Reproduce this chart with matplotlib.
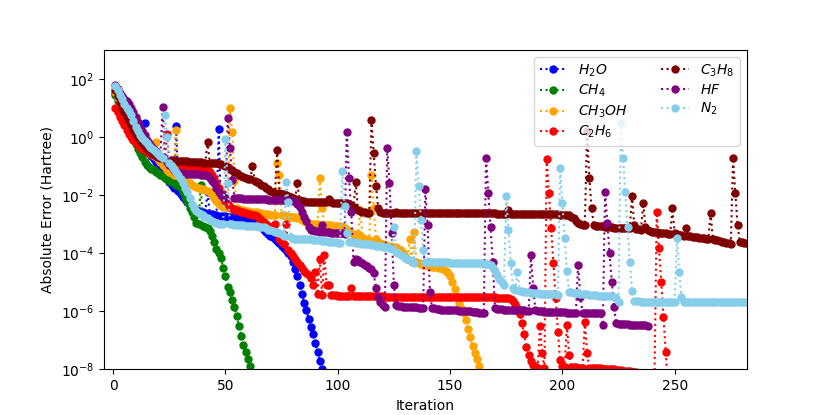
import numpy as np
import matplotlib
matplotlib.use('Agg')
import matplotlib.pyplot as plt
from matplotlib.ticker import NullLocator

# log10 of the absolute error (Hartree) per iteration, iteration 1 first
h2o = [1.5, 1.3, 1.1, 0.9, 0.75, 0.6, 0.45, 0.3, 0.15, 0.0,
       -0.1, -0.2, -0.3, 0.49, -0.45, -0.55, -0.65, -0.75, -0.85, -0.95,
       -1.05, -1.15, -1.3, -1.42, -1.55, -1.65, -1.75, 0.39, -1.85, -1.95,
       -2.05, -2.15, -2.25, -2.35, -2.4, -2.45, -2.5, -2.55, -2.6, -2.6,
       -2.62, -1.88, -2.65, -2.66, -2.68, -2.7, 0.27, -2.72, -2.72, -2.73,
       -2.74, -2.74, -2.75, -2.75, -2.76, -2.77, -2.78, -2.79, -2.8, -2.82,
       -2.84, -2.86, -2.88, -2.9, -2.95, -3.05, -3.2, -3.28, -3.34, -3.4,
       -3.45, -3.5, -3.58, -3.66, -3.74, -3.82, -3.9, -3.98, -4.1, -4.3,
       -4.55, -4.8, -5.1, -5.4, -5.7, -5.96, -6.25, -6.53, -6.8, -7.1,
       -7.4, -7.7, -8.0, -8.3]

ch4 = [1.45, 1.25, 1.05, 0.85, 0.65, 0.45, 0.25, 0.05, -0.1, -0.25,
       -0.4, -0.55, -0.7, -0.85, -0.98, -1.05, -1.1, -1.15, -1.2, -1.25,
       -1.3, -1.35, -1.4, -1.45, -1.5, -1.55, -1.6, -1.65, -1.7, -1.77,
       -1.9, -2.06, -2.25, -2.45, -2.6, -2.75, -2.97, -3.0, -1.65, -3.05,
       -3.1, -3.15, -3.25, -3.4, -3.6, -3.85, -4.0, -4.18, -4.5, -4.8,
       -5.15, -5.35, -5.6, -5.85, -6.15, -6.5, -6.85, -7.15, -7.4, -7.65,
       -7.9, -8.2]

ch3oh = [1.55, 1.35, 1.15, 0.95, 0.8, 0.65, 0.5, 0.35, 0.2, 0.05,
         -0.05, -0.15, -0.25, -0.35, -0.45, -0.55, -0.6, -0.65, -0.16, -0.75,
         -0.85, -0.95, -1.05, -1.15, -1.2, -1.25, -1.3, 0.24, -1.35, -1.4,
         -1.45, -1.5, -1.55, -1.6, -1.65, -1.7, -1.72, -1.75, -1.78, -1.8,
         -1.82, -1.85, -1.9, -2.0, -2.1, -2.2, -2.3, -2.35, -2.4, -2.42,
         -2.44, 1.0, 0.18, -1.5, -2.45, -2.48, -2.5, -2.52, -2.54, -2.55,
         -2.57, -2.58, -2.6, -2.6, -2.62, -2.62, -2.64, -2.65, -2.66, -2.67,
         -2.68, -2.69, -0.91, -1.31, -2.7, -2.7, -2.72, -2.73, -2.74, -2.75,
         -2.76, -2.78, -2.8, -2.85, -2.9, -2.92, -2.95, -2.98, -3.0, -3.0,
         -3.0, -1.42, -2.46, -3.02, -3.03, -3.03, -3.04, -3.05, -3.06, -3.07,
         -3.08, -3.1, -3.15, -3.2, -3.25, -3.3, -3.35, -3.4, -3.35, -2.5,
         -3.45, -3.5, -3.55, -3.55, -1.31, -2.46, -3.5, -3.6, -3.65, -3.7,
         -3.72, -3.74, -3.76, -3.78, -3.8, -3.8, -3.85, -3.9, -4.0, -4.1,
         -4.2, -3.5, -4.3, -3.26, -4.29, -4.35, -4.38, -4.4, -4.42, -4.44,
         -4.45, -4.46, -4.47, -4.48, -4.5, -4.52, -4.55, -4.6, -4.7, -4.8,
         -5.0, -5.25, -5.5, -5.7, -5.9, -6.07, -6.3, -6.6, -6.9, -7.2,
         -7.45, -7.65, -7.9, -8.2]

c2h6 = [1.0, 0.85, 0.7, 0.55, 0.4, 0.25, 0.1, 0.0, -0.1, -0.18,
        -0.26, -0.34, -0.4, -0.46, -0.52, -0.56, -0.6, -0.63, -0.66, -0.68,
        -0.7, -0.72, -0.75, 0.1, -0.85, -0.92, -0.97, -1.0, -1.02, -1.03,
        -1.04, -1.05, -1.06, -1.07, -1.08, -1.09, -1.1, -1.1, -1.11, -1.12,
        -1.12, -1.13, -1.2, -1.3, -1.45, -1.6, -1.75, -1.9, -2.05, -2.2,
        -2.3, -2.4, -2.45, -2.5, -2.52, -2.55, -2.58, -2.6, -2.62, -2.64,
        -2.66, -2.68, -2.7, -2.72, -2.78, -2.85, -2.92, -3.0, -3.05, -3.1,
        -3.15, -3.0, -3.3, -3.5, -3.6, -3.7, -3.0, -3.9, -4.0, -4.1,
        -4.2, -4.3, -4.4, -4.5, -4.6, -4.67, -4.75, -4.85, -5.1, -4.64,
        -5.4, -4.2, -5.44, -4.06, -5.1, -5.1, -5.44, -5.45, -5.45, -5.46,
        -5.46, -5.46, -5.47, -5.47, -5.47, -5.2, -5.48, -5.48, -5.48, -5.48,
        -5.49, -5.49, -5.49, -5.49, -5.49, -5.49, -5.49, -5.49, -5.49, -5.49,
        -5.5, -5.5, -5.5, -5.5, -5.5, -5.5, -5.5, -5.5, -5.5, -5.5,
        -5.5, -5.5, -5.5, -5.5, -5.5, -5.5, -5.5, -5.5, -5.5, -5.5,
        -5.51, -5.51, -5.51, -5.51, -5.51, -5.51, -5.51, -5.51, -5.51, -5.51,
        -5.52, -5.52, -5.52, -5.52, -5.52, -5.52, -5.52, -5.52, -5.52, -5.52,
        -5.52, -5.52, -5.52, -5.52, -5.52, -5.52, -5.52, -5.52, -5.52, -5.52,
        -5.53, -5.53, -5.54, -5.54, -5.55, -5.55, -5.58, -5.65, -5.75, -5.9,
        -6.1, -6.42, -6.8, -7.22, -7.5, -7.7, -7.85, -7.9, -7.95, -6.5,
        -7.45, -7.95, -0.76, -1.94, -3.14, -4.35, -5.55, -6.7, -7.68, -7.9,
        -7.92, -6.47, -7.5, -7.92, -7.93, -7.93, -7.94, -7.94, -7.95, -6.36,
        -7.45, -7.95, -7.95, -7.96, -7.96, -7.97, -7.97, -7.98, -7.98, -7.99,
        -7.99, -8.0, -8.0, -8.01, -8.02, -8.03, -8.04, -8.05, -8.06, -8.07,
        -8.08, -8.09, -8.1, -8.12, -8.14, -8.16, -8.18, -8.2, -8.22, -8.25,
        -8.3, -2.6, -3.83, -4.98, -6.21, -7.39, -8.6, -8.7]

c3h8 = [1.6, 1.4, 1.2, 1.0, 0.85, 0.7, 0.55, 0.4, 0.25, 0.1,
        0.0, -0.1, -0.2, -0.3, -0.4, -0.5, -0.55, -0.6, -0.65, -0.7,
        -0.72, -0.74, -0.76, -0.78, -0.8, -0.8, -0.81, -0.82, -0.82, -0.83,
        -0.83, -0.84, -0.84, -0.85, -0.85, -0.86, -0.86, -0.87, -0.87, -0.88,
        -0.88, -0.16, -0.89, -0.9, -0.9, -0.91, -0.92, -0.94, -0.97, -1.0,
        -1.05, -1.1, -1.15, -1.2, -1.25, -1.3, -1.35, -1.38, -1.41, -1.44,
        -1.46, -1.0, -1.5, -1.55, -1.6, -1.65, -1.7, -1.75, -1.8, -1.85,
        -1.9, -1.93, -0.45, -1.94, -1.96, -1.98, -2.0, -2.03, -2.06, -2.1,
        -2.12, -1.6, -2.18, -2.2, -2.22, -2.23, -2.23, -2.24, -2.24, -2.24,
        -2.24, -2.25, -2.25, -2.25, -2.25, -2.15, -2.25, -2.26, -2.26, -2.26,
        -2.26, -2.26, -2.27, -2.27, -2.3, -2.35, -2.4, -1.54, -2.5, -2.55,
        -2.58, -2.6, -2.62, -2.63, 0.58, -0.56, -1.69, -2.46, -2.6, -2.62,
        -2.62, -2.62, -2.62, -2.62, -2.62, -2.57, -2.62, -2.62, -2.62, -2.62,
        -2.62, -2.62, -2.62, -2.62, -2.62, -2.63, -2.63, -2.63, -2.63, -2.63,
        -2.63, -2.63, -2.63, -2.63, -2.63, -2.63, -2.63, -2.63, -2.63, -2.63,
        -2.63, -2.63, -2.63, -2.63, -2.63, -2.63, -2.63, -2.63, -2.63, -2.63,
        -2.63, -2.63, -2.63, -2.63, -2.63, -2.63, -2.63, -2.63, -2.63, -2.63,
        -2.64, -2.64, -2.64, -2.64, -2.64, -2.51, -2.64, -2.64, -2.64, -2.64,
        -2.65, -2.65, -2.65, -2.65, -2.65, -2.65, -2.65, -2.65, -2.65, -2.65,
        -2.65, -2.65, -2.65, -2.65, -2.66, -2.66, -2.66, -2.66, -2.67, -2.67,
        -2.67, -2.68, -2.7, -2.75, -2.8, -2.88, -2.95, -3.0, -3.03, -3.03,
        0.2, -1.42, -2.46, -3.03, -3.05, -3.06, -3.07, -3.08, -3.09, -3.1,
        -3.1, -3.11, -3.12, -3.12, -3.13, -3.13, -3.14, -3.14, -3.15, -3.15,
        -2.03, -3.03, -3.16, -3.18, -3.2, -2.28, -3.1, -3.22, -3.24, -3.26,
        -3.27, -3.28, -3.29, -3.3, -3.31, -3.32, -3.33, -3.34, -2.46, -3.32,
        -3.34, -3.36, -3.38, -3.4, -3.14, -3.4, -3.42, -3.44, -3.45, -3.46,
        -3.47, -3.48, -3.49, -3.5, -3.5, -2.63, -3.52, -3.54, -3.56, -3.58,
        -3.6, -3.62, -3.64, -3.66, -3.68, -0.74, -1.94, -3.03, -3.6, -3.62,
        -3.64, -3.66, -3.68]

hf = [1.8, 1.65, 1.5, 1.4, 1.3, 1.25, 1.15, 1.0, 0.85, 0.7,
      0.5, 0.35, 0.2, 0.05, -0.1, -0.2, -0.3, -0.4, -0.5, -0.6,
      -0.68, 1.04, -0.74, -0.85, -0.95, -1.05, -1.15, -1.2, -1.22, -1.24,
      -1.25, -1.26, -1.27, -1.27, -1.28, -1.28, -1.29, -1.29, -1.3, -1.3,
      -1.32, -1.35, -1.4, -1.5, -1.6, -1.75, -1.9, -2.0, -2.05, -2.1,
      0.64, -0.39, -1.48, -2.1, -2.1, -2.11, -2.11, -2.12, -2.12, -2.13,
      -2.13, -2.13, -2.14, -2.14, -2.14, -2.15, -2.15, -2.15, -2.16, -2.16,
      -2.16, -2.16, -2.17, -2.17, -2.17, -2.17, -2.18, -2.18, -2.18, -2.19,
      -2.2, -2.3, -2.4, -2.57, -2.75, -2.9, -3.1, -3.2, -3.22, -3.24,
      -3.25, -3.26, -3.03, -3.27, -3.28, -3.28, -3.29, -3.29, -3.3, -3.3,
      -3.3, -3.32, -3.35, 0.18, -1.42, -2.57, -4.29, -4.2, -4.25, -4.3,
      -4.35, -4.4, -4.45, -4.5, -4.55, -4.7, -5.2, -5.5, -5.67, -5.8,
      -5.84, -0.37, -1.57, -3.3, -5.1, -5.8, -5.82, -5.83, -5.84, -5.85,
      -5.85, -5.86, -5.86, -5.87, -5.87, -5.88, -5.88, -5.89, -1.8, -3.03,
      -5.33, -5.9, -5.9, -5.92, -5.92, -5.94, -5.94, -5.95, -5.95, -5.96,
      -5.96, -5.97, -5.97, -5.98, -5.98, -5.99, -5.99, -6.0, -6.0, -6.02,
      -6.03, -6.04, -6.05, -6.06, -6.07, -0.71, -1.92, -3.09, -4.29, -5.9,
      -5.92, -5.93, -5.93, -5.94, -5.94, -5.95, -5.95, -5.95, -5.96, -5.96,
      -5.96, -5.97, -5.97, -5.98, -5.98, -4.06, -5.2, -5.95, -6.0, -6.0,
      -6.0, -6.01, -6.01, -6.02, -6.02, -6.03, -6.03, -6.03, -6.04, -6.04,
      -6.04, -6.05, -6.05, -6.05, -6.06, -6.06, -4.4, -5.5, -6.05, -6.05,
      -6.05, -6.06, -6.06, -6.06, -6.07, -6.07, -6.07, -6.47, -1.88, -2.95,
      -4.0, -4.98, -5.86, -6.42, -6.43, -6.44, -6.44, -6.45, -6.45, -6.46,
      -6.46, -6.47, -6.47, -6.48, -6.48, -6.49, -6.49, -6.5]

n2 = [1.75, 1.6, 1.45, 1.3, 1.15, 1.0, 0.9, 0.75, 0.55, 0.35,
      0.2, 0.05, -0.05, -0.15, -0.22, -0.3, -0.38, -0.45, -0.52, -0.6,
      -0.65, -0.72, 0.76, 0.01, -0.9, -1.0, -1.1, -1.2, -1.3, -1.45,
      -1.6, -1.75, -1.9, -2.1, -2.3, -2.45, -2.55, -2.62, -2.66, -2.7,
      -2.75, -2.8, -2.85, -2.9, -2.93, -2.96, -2.98, -3.0, -3.0, -0.07,
      -1.6, -3.0, -3.01, -3.02, -3.02, -3.03, -3.04, -3.04, -3.05, -3.06,
      -3.06, -3.07, -3.08, -3.08, -3.09, -3.1, -3.1, -3.15, -3.2, -3.22,
      -3.24, -3.26, -3.28, -3.3, -3.35, -3.4, -1.54, -2.23, -3.45, -3.5,
      -3.5, -3.5, -3.51, -3.51, -3.52, -3.52, -3.53, -3.53, -3.54, -3.54,
      -3.55, -3.56, -3.57, -3.58, -3.59, -3.6, -3.61, -3.62, -3.63, -3.64,
      -3.65, -1.17, -2.37, -3.32, -3.6, -3.62, -3.63, -3.64, -3.65, -3.66,
      -3.67, -3.68, -3.69, -3.7, -3.71, -3.72, -3.74, -3.75, -3.76, -3.78,
      -3.78, -3.8, -3.82, -3.85, -3.09, -3.95, -4.0, -4.05, -4.1, -4.15,
      -4.2, -4.24, -4.28, -4.34, -0.5, -1.69, -2.86, -3.89, -4.3, -4.3,
      -4.3, -4.3, -4.31, -4.31, -4.31, -4.32, -4.32, -4.32, -4.32, -4.33,
      -4.33, -4.33, -4.33, -4.33, -4.34, -4.34, -4.34, -4.34, -4.34, -4.35,
      -4.35, -4.35, -4.35, -4.35, -4.36, -4.36, -4.38, -4.42, -4.5, -4.6,
      -4.75, -4.9, -5.0, -5.1, -2.02, -3.2, -4.35, -5.2, -5.27, -4.64,
      -5.3, -5.32, -5.33, -5.34, -5.35, -5.36, -5.37, -5.38, -5.38, -5.39,
      -5.39, -5.4, -5.4, -5.41, -5.41, -5.42, -5.42, -5.43, -1.08, -2.29,
      -3.49, -4.6, -5.33, -5.35, -5.36, -5.37, -5.38, -5.39, -5.4, -5.41,
      -5.42, -5.43, -5.44, -5.45, -5.45, -5.46, -5.46, -5.47, -5.47, -5.48,
      -5.48, -5.49, -5.5, -5.55, -5.67, 0.49, -0.71, -1.91, -3.1, -4.29,
      -5.3, -5.66, -5.66, -5.66, -5.67, -5.67, -5.67, -5.67, -5.67, -5.67,
      -5.67, -5.67, -5.67, -5.67, -5.67, -5.67, -5.67, -5.67, -5.67, -5.67,
      -3.49, -4.64, -5.5, -5.67, -5.67, -5.67, -5.67, -5.67, -5.67, -5.67,
      -5.67, -5.67, -5.67, -5.67, -5.67, -5.67, -5.67, -5.67, -5.67, -5.67,
      -5.67, -5.67, -5.67, -5.67, -5.67, -5.67, -5.67, -5.67, -5.67, -5.67,
      -5.67, -5.67, -5.67]

series = [h2o, ch4, ch3oh, c2h6, c3h8, hf, n2]
labels = ['$H_2O$', '$CH_4$', '$CH_3OH$', '$C_2H_6$', '$C_3H_8$', '$HF$', '$N_2$']
colors = ['blue', 'green', 'orange', 'red', 'maroon', 'purple', 'skyblue']

fig = plt.figure(figsize=(8.3, 4.15), dpi=100)
ax = fig.add_subplot(111)
for log_err, label, color in zip(series, labels, colors):
    iters = np.arange(1, len(log_err) + 1)
    ax.plot(iters, 10.0 ** np.array(log_err), ':o', color=color,
            markersize=5, label=label)

ax.set_yscale('log')
ax.set_ylim(1e-8, 1e3)
ax.yaxis.set_minor_locator(NullLocator())
ax.set_xlim(-4.2, 282.2)
ax.set_xlabel('Iteration')
ax.set_ylabel('Absolute Error (Hartree)')
ax.legend(loc='upper right', ncol=2, labelspacing=0.3, columnspacing=2.4)

fig.savefig('out.png', dpi=100)
